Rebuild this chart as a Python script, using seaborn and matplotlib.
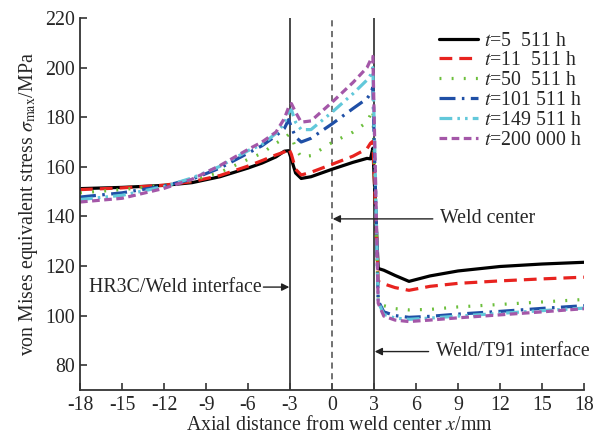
import matplotlib
matplotlib.use("Agg")
import matplotlib.pyplot as plt
import numpy as np
import pandas as pd
import seaborn as sns

sns.set_style("ticks")
plt.rcParams["font.family"] = ["Liberation Serif", "DejaVu Serif"]
plt.rcParams["mathtext.fontset"] = "stix"
plt.rcParams["axes.unicode_minus"] = False
plt.rcParams["xtick.direction"] = "in"
plt.rcParams["ytick.direction"] = "in"

FS = 14.3

# axial position (mm), shared by all curves
x_mm = [-18, -15, -12, -10, -8, -6, -5, -4, -3.4, -3.1, -2.9, -2.6, -2.2, -1.5, 0,
        1.5, 2.5, 2.75, 2.92, 3.3, 3.7, 4.5, 5.5, 7, 9, 12, 15, 18]

# von Mises stress (MPa) for each creep time
s_5511 = [151.2, 151.7, 152.5, 153.6, 156.0, 159.5, 161.5, 164.0, 166.3, 166.5, 163.0,
          157.5, 155.3, 156.0, 159.0, 161.8, 163.4, 163.2, 167.5, 119.0, 118.3, 116.2,
          113.8, 116.0, 118.0, 119.8, 120.8, 121.5]
s_11511 = [150.8, 151.5, 152.6, 154.0, 156.5, 160.3, 162.5, 164.8, 166.0, 167.5, 165.0,
           159.0, 156.7, 157.8, 161.0, 164.3, 167.3, 169.5, 170.3, 113.8, 112.8, 111.3,
           110.2, 111.8, 113.0, 114.0, 114.8, 115.5]
s_50511 = [149.5, 150.8, 152.5, 154.5, 157.8, 163.0, 165.5, 169.5, 171.5, 173.0, 172.5,
           167.4, 164.0, 164.5, 169.8, 174.0, 178.0, 181.0, 183.0, 107.0, 104.0, 102.8,
           102.3, 102.5, 103.5, 104.5, 105.5, 106.5]
s_101511 = [147.8, 149.5, 152.3, 155.0, 159.5, 165.5, 168.5, 172.5, 175.5, 179.0, 176.0,
            172.0, 170.0, 171.5, 177.3, 183.5, 187.5, 189.5, 192.0, 106.0, 101.5, 100.0,
            99.3, 99.7, 100.6, 101.7, 102.9, 104.0]
s_149511 = [146.8, 148.5, 152.0, 155.5, 160.2, 166.5, 169.0, 173.5, 177.5, 182.0, 183.0,
            178.0, 175.0, 175.0, 182.0, 189.5, 195.0, 197.0, 200.0, 105.5, 100.5, 99.0,
            98.5, 99.0, 99.8, 100.9, 102.0, 103.0]
s_200000 = [145.8, 147.3, 151.3, 155.0, 160.5, 167.0, 170.0, 174.0, 179.5, 184.0, 185.5,
            182.0, 178.0, 178.5, 186.0, 194.0, 200.0, 203.0, 204.5, 105.0, 99.8, 98.2,
            97.6, 98.2, 99.1, 100.3, 101.5, 102.8]

labels = [r"$t$=5  511 h", r"$t$=11  511 h", r"$t$=50  511 h",
          r"$t$=101 511 h", r"$t$=149 511 h", r"$t$=200 000 h"]
series = [s_5511, s_11511, s_50511, s_101511, s_149511, s_200000]

colors = ["#000000", "#e8231f", "#6cbf3c", "#1f4fa6", "#62c8da", "#a457a8"]
dash_styles = ["", (4, 2.2), (0.6, 3.2), (5, 2, 0.8, 2), (4, 1.6, 0.8, 1.6, 0.8, 1.6), (2.4, 1.4)]

df = pd.concat([pd.DataFrame({"x": x_mm, "stress": s, "time": lab})
                for s, lab in zip(series, labels)], ignore_index=True)

fig = plt.figure(figsize=(6.07, 4.36), dpi=100)
ax = fig.add_axes([0.1318, 0.1055, 0.8303, 0.8532])

sns.lineplot(data=df, x="x", y="stress", hue="time", style="time",
             hue_order=labels, style_order=labels,
             palette=dict(zip(labels, colors)), dashes=dict(zip(labels, dash_styles)),
             sort=False, estimator=None, lw=2.3, ax=ax)

# interfaces and weld centre
for xv in (-3, 3):
    ax.axvline(xv, color="#3a3a3a", lw=1.3, zorder=1)
ax.axvline(0, color="#4a4a4a", lw=1.1, ls=(0, (4, 3)), zorder=1)

arrow = dict(arrowstyle="-|>", color="#222222", lw=1.0, mutation_scale=11, shrinkA=0, shrinkB=0)
ax.annotate("", xy=(0.05, 139), xytext=(7.2, 139), arrowprops=arrow)
ax.text(7.7, 139, "Weld center", fontsize=FS, va="center", ha="left")
ax.annotate("", xy=(-3.05, 111.5), xytext=(-4.9, 111.5), arrowprops=arrow)
ax.text(-5.0, 111.5, "HR3C/Weld interface", fontsize=FS, va="center", ha="right")
ax.annotate("", xy=(3.05, 85.5), xytext=(6.9, 85.5), arrowprops=arrow)
ax.text(7.4, 85.5, "Weld/T91 interface", fontsize=FS, va="center", ha="left")

ax.set_xlim(-18, 18)
ax.set_ylim(70, 220)
ax.set_xticks(np.arange(-18, 19, 3))
ax.set_yticks(np.arange(80, 221, 20))
ax.tick_params(labelsize=FS, length=5, width=1.2, color="#333333")
ax.tick_params(axis="x", pad=4)
ax.set_xlabel("")
fig.text(0.5595, 0.013, r"Axial distance from weld center $x$/mm", fontsize=FS,
         ha="center", va="baseline")
ax.set_ylabel(r"von Mises equivalent stress $\sigma_{\rm max}$/MPa", fontsize=FS, labelpad=4)
sns.despine(ax=ax)
for sp in ("left", "bottom"):
    ax.spines[sp].set_linewidth(1.3)
    ax.spines[sp].set_color("#333333")

handles, labs = ax.get_legend_handles_labels()
ax.legend(handles, labs, loc="upper left", bbox_to_anchor=(0.697, 0.985), frameon=False,
          fontsize=FS, handlelength=1.95, handletextpad=0.3, labelspacing=0.04,
          borderaxespad=0)

fig.savefig("out.png", dpi=100)
